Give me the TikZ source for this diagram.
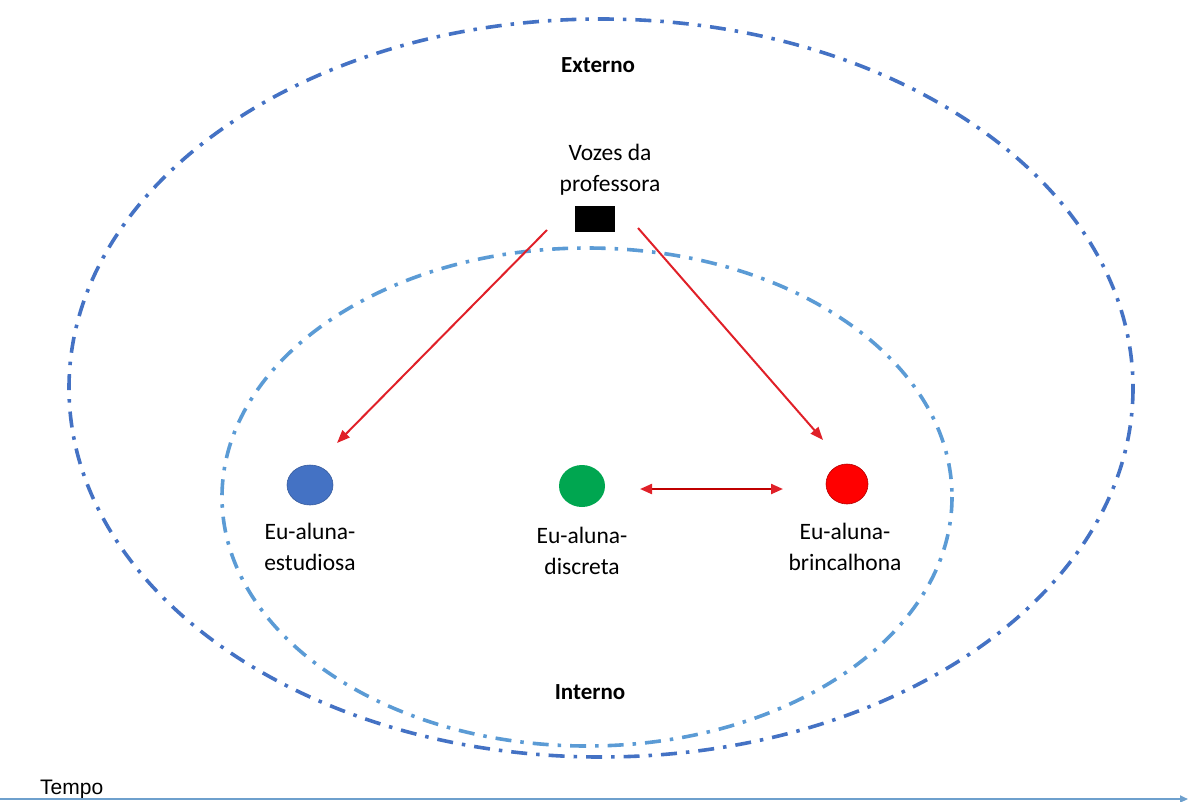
\documentclass[tikz,border=0pt]{standalone}
\usepackage{fontspec}
\setmainfont{Carlito}
\newfontfamily\arialfont{Liberation Sans}
\usetikzlibrary{arrows.meta,shapes.geometric}
\definecolor{outerblue}{RGB}{68,114,196}
\definecolor{innerblue}{RGB}{91,155,213}
\definecolor{arrowred}{RGB}{224,32,40}
\definecolor{darkred}{RGB}{192,0,0}
\definecolor{dotblue}{RGB}{68,114,196}
\definecolor{dotgreen}{RGB}{0,166,80}
\definecolor{timeblue}{RGB}{110,160,205}
\tikzset{
  ring/.style={line width=3.6pt, dash pattern=on 16pt off 9pt on 3.5pt off 9pt},
  label/.style={align=center, font=\fontsize{23.5}{31}\selectfont, inner sep=0pt},
  title/.style={font=\fontsize{23}{26}\selectfont\bfseries, inner sep=0pt},
  dot/.style={ellipse, minimum width=46pt, minimum height=40pt, inner sep=0pt},
  voice/.style={arrowred, line width=2pt, -{Triangle[length=13pt,width=10pt]}},
}
\begin{document}
\begin{tikzpicture}[x=1pt,y=-1pt]
\useasboundingbox (0,0) rectangle (1188,801);
% outer and inner self rings
\draw[ring, outerblue] (601,388) ellipse [x radius=532, y radius=369];
\draw[ring, innerblue] (587,497) ellipse [x radius=365, y radius=249];
\node[title] (ext) at (598,65) {Externo};
\node[title] (int) at (590,692) {Interno};
% teacher voices
\node[label] (vozes) at (610,170) {Vozes da\\professora};
\node[fill=black, minimum width=40pt, minimum height=26pt, inner sep=0pt] (box) at (595,219) {};
\coordinate (vl) at (547,230);
\coordinate (vr) at (638,228);
% the three selves
\node[dot, fill=dotblue, draw=dotblue!80!black, line width=0.6pt] (est) at (310,485) {};
\node[dot, fill=dotgreen, minimum width=46pt, minimum height=42pt] (dis) at (582,486) {};
\node[dot, fill=red, draw=red!70!black, line width=0.6pt, minimum width=42pt] (bri) at (847,484) {};
\node[label] (lest) at (310,547) {Eu-aluna-\\estudiosa};
\node[label] (ldis) at (582,551) {Eu-aluna-\\discreta};
\node[label] (lbri) at (845,547) {Eu-aluna-\\brincalhona};
% tensions
\coordinate (ta) at (337,443);
\coordinate (tb) at (823,440);
\draw[voice] (vl) -- (ta);
\draw[voice] (vr) -- (tb);
\coordinate (da) at (640,489);
\coordinate (db) at (783,489);
\draw[darkred, line width=2.2pt, {Triangle[length=12pt,width=10pt,color=arrowred]}-{Triangle[length=12pt,width=10pt,color=arrowred]}] (da) -- (db);
% time axis
\node[font=\arialfont\fontsize{21}{24}\selectfont, anchor=base west, inner sep=0pt] (tempo) at (40,794) {Tempo};
\coordinate (t0) at (0,799);
\coordinate (t1) at (1188,799);
\draw[timeblue, line width=1.8pt, -{Triangle[length=8pt,width=7pt]}] (t0) -- (t1);
\end{tikzpicture}
\end{document}
